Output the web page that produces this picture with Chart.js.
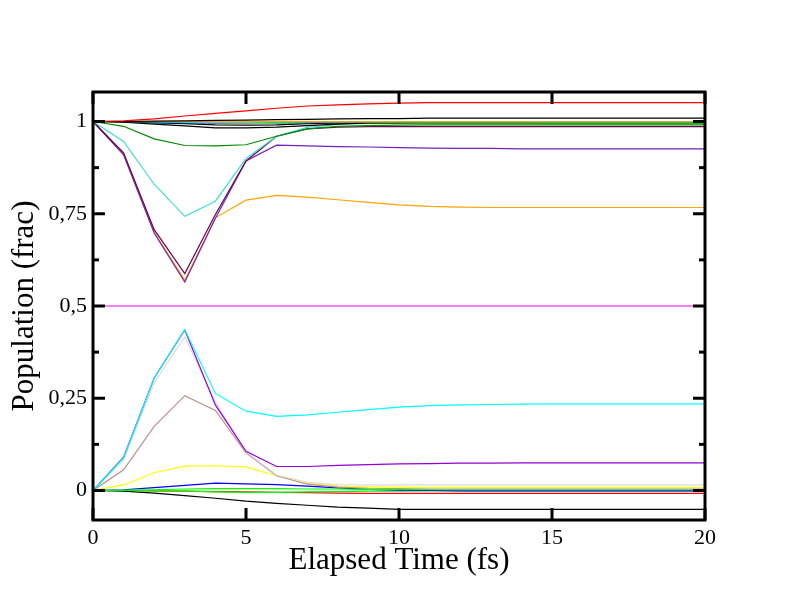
<!DOCTYPE html>
<html><head><meta charset="utf-8">
<script src="https://cdn.jsdelivr.net/npm/chart.js@4.4.1/dist/chart.umd.min.js"></script>
<style>html,body{margin:0;padding:0;background:#fff;}</style>
</head><body>
<canvas id="c" width="792" height="612"></canvas>
<script>
const times = [0,1,2,3,4,5,6,7,8,9,10,11,12,13,14,15,16,17,18,19,20];
const xTicks = [0,5,10,15,20];
const xTickLabels = ["0","5","10","15","20"];
const yTicks = [0,0.25,0.5,0.75,1];
const yTickLabels = ["0","0,25","0,5","0,75","1"];
const yMinorTicks = [0.125,0.375,0.625,0.875];

const redHi     = [1.000,1.002,1.007,1.015,1.022,1.029,1.036,1.042,1.045,1.048,1.050,1.051,1.051,1.051,1.051,1.051,1.051,1.051,1.051,1.051,1.051];
const blackHiA  = [1.000,1.000,1.001,1.002,1.003,1.004,1.005,1.006,1.007,1.008,1.008,1.009,1.009,1.009,1.009,1.009,1.009,1.009,1.009,1.009,1.009];
const orangeHi2 = [1.000,1.000,1.000,1.000,0.999,0.999,0.9995,0.9995,0.999,0.999,0.999,0.999,0.999,0.999,0.999,0.999,0.999,0.999,0.999,0.999,0.999];
const cyanHi    = [1.000,1.000,0.999,0.998,0.998,0.998,0.999,0.999,0.9995,0.9995,0.9995,0.9995,0.9995,0.9995,0.9995,0.999,0.999,0.999,0.999,0.999,0.999];
const magentaHi = [1.000,1.000,1.000,0.999,0.998,0.998,0.998,0.999,0.999,0.999,0.999,0.999,0.999,0.999,0.999,0.9995,0.9995,0.9995,0.9995,0.9995,0.9995];
const blackHiB  = [1.000,0.998,0.993,0.988,0.983,0.983,0.985,0.989,0.993,0.996,0.997,0.998,0.998,0.998,0.998,0.998,0.998,0.998,0.998,0.998,0.998];
const blackHiC  = [1.000,0.999,0.997,0.994,0.991,0.990,0.991,0.994,0.996,0.997,0.997,0.997,0.997,0.997,0.997,0.997,0.997,0.997,0.997,0.997,0.997];
const blueHi    = [1.000,1.000,0.997,0.996,0.996,0.997,0.998,0.998,0.998,0.998,0.998,0.998,0.998,0.998,0.998,0.998,0.998,0.998,0.998,0.998,0.998];
const limeHi    = [1.000,1.000,0.999,0.998,0.997,0.996,0.995,0.995,0.995,0.995,0.995,0.995,0.995,0.995,0.995,0.995,0.995,0.995,0.995,0.995,0.995];
const greenDkHi = [1.000,0.987,0.953,0.935,0.934,0.937,0.960,0.980,0.987,0.989,0.990,0.991,0.991,0.991,0.991,0.991,0.991,0.991,0.991,0.991,0.991];
const turqHi    = [1.000,0.946,0.830,0.743,0.784,0.900,0.960,0.984,0.992,0.995,0.996,0.997,0.997,0.997,0.997,0.997,0.997,0.997,0.997,0.997,0.997];
const maroonHi  = [1.000,0.915,0.707,0.588,0.748,0.893,0.960,0.980,0.985,0.986,0.986,0.986,0.986,0.986,0.986,0.986,0.986,0.986,0.986,0.986,0.986];
const indigoHi  = [1.000,0.910,0.698,0.565,0.738,0.893,0.936,0.934,0.932,0.931,0.929,0.928,0.927,0.927,0.926,0.926,0.926,0.926,0.926,0.926,0.926];
const orangeHi  = [1.000,0.912,0.700,0.570,0.739,0.787,0.800,0.795,0.788,0.781,0.774,0.770,0.768,0.767,0.767,0.767,0.767,0.767,0.767,0.767,0.767];
const magentaMid= [0.500,0.500,0.500,0.500,0.500,0.500,0.500,0.500,0.500,0.500,0.500,0.500,0.500,0.500,0.500,0.500,0.500,0.500,0.500,0.500,0.500];
const cyanLo    = [0.000,0.088,0.305,0.436,0.263,0.215,0.201,0.205,0.212,0.219,0.226,0.230,0.232,0.233,0.234,0.235,0.235,0.235,0.235,0.235,0.235];
const violetLo  = [0.000,0.090,0.305,0.435,0.232,0.106,0.065,0.065,0.068,0.070,0.072,0.073,0.074,0.074,0.075,0.075,0.075,0.075,0.075,0.075,0.075];
const greyLo    = [0.000,0.082,0.292,0.416,0.240,0.105,0.042,0.022,0.016,0.015,0.015,0.015,0.015,0.015,0.015,0.015,0.015,0.015,0.015,0.015,0.015];
const brownLo   = [0.000,0.056,0.174,0.257,0.217,0.102,0.040,0.017,0.009,0.006,0.005,0.004,0.004,0.004,0.004,0.004,0.004,0.004,0.004,0.004,0.004];
const yellowLo  = [0.000,0.015,0.048,0.066,0.067,0.064,0.040,0.020,0.012,0.010,0.009,0.008,0.008,0.008,0.008,0.008,0.008,0.008,0.008,0.008,0.008];
const blueLo    = [0.000,0.002,0.008,0.014,0.020,0.018,0.016,0.012,0.007,0.003,0.001,0.000,-0.001,-0.001,-0.001,-0.001,-0.001,-0.001,-0.001,-0.001,-0.001];
const limeLoA   = [0.000,0.001,0.002,0.004,0.005,0.005,0.005,0.004,0.004,0.003,0.003,0.002,0.002,0.002,0.002,0.002,0.002,0.002,0.002,0.002,0.002];
const limeLoB   = [0.000,0.000,-0.001,-0.002,-0.004,-0.005,-0.005,-0.004,-0.003,-0.002,-0.002,-0.001,-0.001,-0.001,-0.001,-0.001,-0.001,-0.001,-0.001,-0.001,-0.001];
const redLo     = [0.000,0.000,-0.001,-0.002,-0.003,-0.004,-0.005,-0.006,-0.007,-0.008,-0.008,-0.008,-0.008,-0.008,-0.008,-0.008,-0.008,-0.008,-0.008,-0.008,-0.008];
const blackLo   = [0.000,-0.002,-0.007,-0.014,-0.021,-0.029,-0.035,-0.040,-0.045,-0.048,-0.051,-0.051,-0.051,-0.051,-0.051,-0.051,-0.051,-0.051,-0.051,-0.051,-0.051];

// first entry is drawn on top
const series = [
  ["redHi", redHi, "#ff0000"],
  ["blackHiA", blackHiA, "#000000"],
  ["orangeHi2", orangeHi2, "#ffa500"],
  ["cyanHi", cyanHi, "#00ffff"],
  ["magentaHi", magentaHi, "#ff00ff"],
  ["blackHiB", blackHiB, "#000000"],
  ["blackHiC", blackHiC, "#000000"],
  ["blueHi", blueHi, "#0000ff"],
  ["limeHi", limeHi, "#00ff00"],
  ["greenDkHi", greenDkHi, "#008b00"],
  ["turqHi", turqHi, "#40e0d0"],
  ["maroonHi", maroonHi, "#670748"],
  ["indigoHi", indigoHi, "#7221bc"],
  ["orangeHi", orangeHi, "#ffa500"],
  ["magentaMid", magentaMid, "#ff00ff"],
  ["cyanLo", cyanLo, "#00ffff"],
  ["violetLo", violetLo, "#9400d3"],
  ["greyLo", greyLo, "#dcdcdc"],
  ["brownLo", brownLo, "#bc8f8f"],
  ["yellowLo", yellowLo, "#ffff00"],
  ["limeLoA", limeLoA, "#00ff00"],
  ["blueLo", blueLo, "#0000ff"],
  ["limeLoB", limeLoB, "#00ff00"],
  ["redLo", redLo, "#ff0000"],
  ["blackLo", blackLo, "#000000"]
];

const framePlugin = {
  id: 'frame',
  afterDatasetsDraw(chart) {
    const {ctx, chartArea: a, scales: {x, y}} = chart;
    ctx.save();
    ctx.strokeStyle = '#000';
    ctx.lineWidth = 3;
    ctx.lineCap = 'butt';
    ctx.strokeRect(a.left, a.top, a.right - a.left, a.bottom - a.top);
    const seg = (x1, y1, x2, y2) => { ctx.beginPath(); ctx.moveTo(x1, y1); ctx.lineTo(x2, y2); ctx.stroke(); };
    xTicks.forEach(v => {
      const p = x.getPixelForValue(v);
      seg(p, a.bottom, p, a.bottom - 12);
      seg(p, a.top, p, a.top + 12);
    });
    yTicks.forEach(v => {
      const p = y.getPixelForValue(v);
      seg(a.left, p, a.left + 12, p);
      seg(a.right, p, a.right - 12, p);
    });
    yMinorTicks.forEach(v => {
      const p = y.getPixelForValue(v);
      seg(a.left, p, a.left + 6, p);
      seg(a.right, p, a.right - 6, p);
    });
    ctx.restore();
  }
};

const fontFam = "'Liberation Serif', 'Times New Roman', serif";

new Chart(document.getElementById('c'), {
  type: 'line',
  data: {
    datasets: series.map(([label, vals, color]) => ({
      label,
      data: times.map((t, i) => ({x: t, y: vals[i]})),
      borderColor: color,
      backgroundColor: color,
      borderWidth: 1.2,
      pointRadius: 0,
      fill: false,
      tension: 0
    }))
  },
  options: {
    responsive: false,
    animation: false,
    devicePixelRatio: 1,
    events: [],
    layout: {padding: {left: 0, right: 87, top: 92, bottom: 0}},
    plugins: {legend: {display: false}, tooltip: {enabled: false}},
    scales: {
      x: {
        type: 'linear', min: 0, max: 20,
        afterFit(s) { s.height = 92; },
        afterBuildTicks(s) { s.ticks = xTicks.map(v => ({value: v})); },
        grid: {display: false, drawTicks: false},
        border: {display: false},
        ticks: {padding: 5, color: '#000', autoSkip: false, maxRotation: 0,
          font: {family: fontFam, size: 22},
          callback: (v, i) => xTickLabels[i]},
        title: {display: true, text: 'Elapsed Time (fs)', color: '#000',
          font: {family: fontFam, size: 31}, padding: {top: 0, bottom: 33}}
      },
      y: {
        type: 'linear', min: -0.08, max: 1.08,
        afterFit(s) { s.width = 93; },
        afterBuildTicks(s) { s.ticks = yTicks.map(v => ({value: v})); },
        grid: {display: false, drawTicks: false},
        border: {display: false},
        ticks: {padding: 6, color: '#000', autoSkip: false,
          font: {family: fontFam, size: 22},
          callback: (v, i) => yTickLabels[i]},
        title: {display: true, text: 'Population (frac)', color: '#000',
          font: {family: fontFam, size: 31}, padding: {top: 6, bottom: 0}}
      }
    }
  },
  plugins: [framePlugin]
});
</script>
</body></html>
